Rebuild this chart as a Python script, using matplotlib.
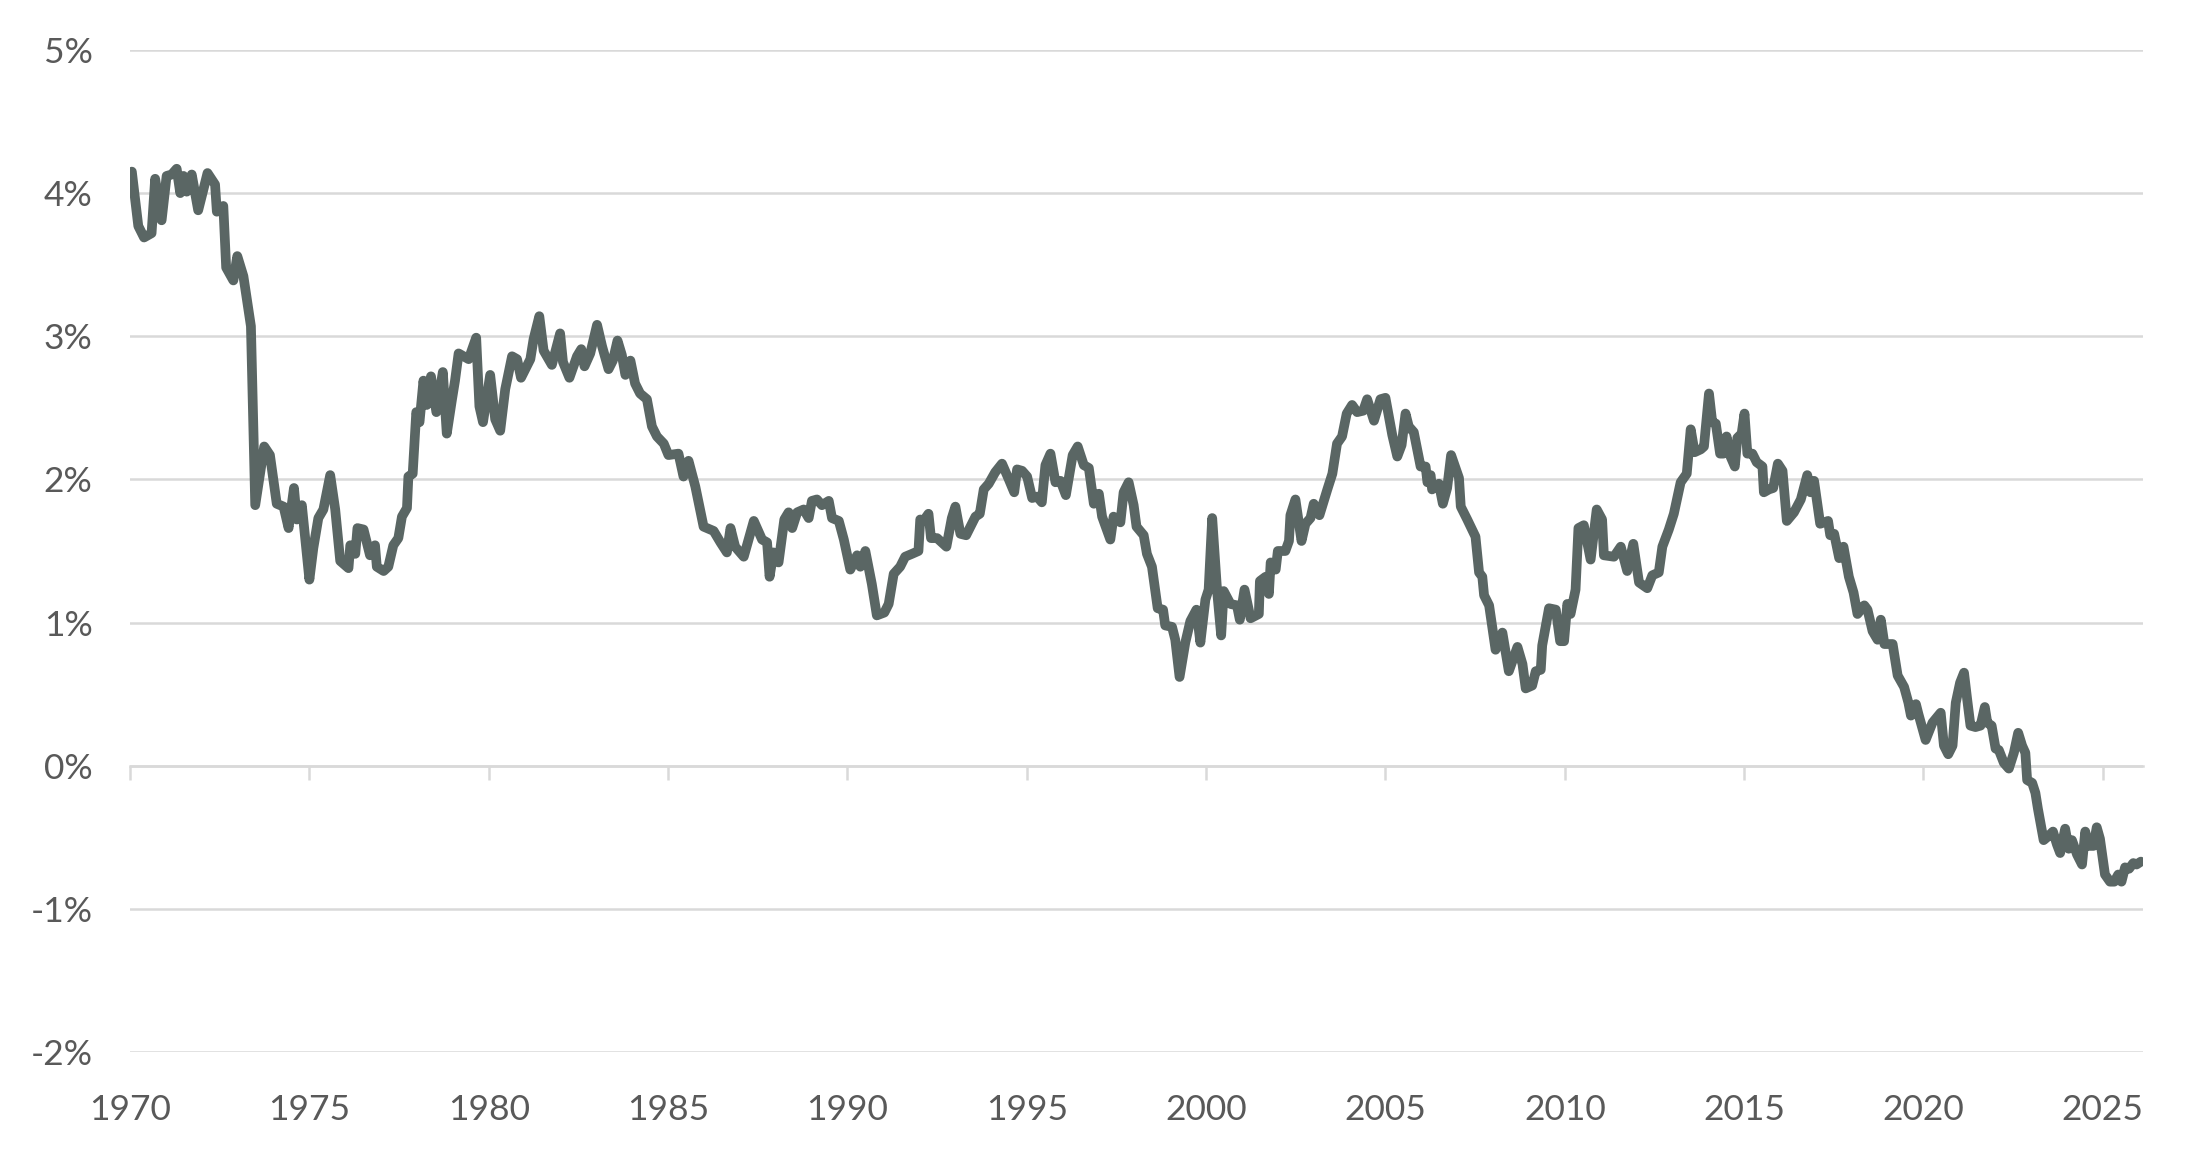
import matplotlib
matplotlib.use("Agg")
import matplotlib.pyplot as plt
from matplotlib.ticker import FuncFormatter

# series (decimal year, percent)
years = [
    1970.05, 1970.23, 1970.39, 1970.60, 1970.70, 1970.88, 1971.02, 1971.16, 1971.30, 1971.40,
    1971.49, 1971.58, 1971.72, 1971.90, 1972.16, 1972.37, 1972.42, 1972.60, 1972.68, 1972.88,
    1972.99, 1973.16, 1973.37, 1973.49, 1973.74, 1973.90, 1974.09, 1974.28, 1974.42, 1974.57,
    1974.65, 1974.79, 1975.00, 1975.11, 1975.25, 1975.39, 1975.58, 1975.72, 1975.86, 1976.09,
    1976.14, 1976.28, 1976.34, 1976.51, 1976.69, 1976.83, 1976.88, 1977.07, 1977.20, 1977.34,
    1977.48, 1977.58, 1977.72, 1977.76, 1977.88, 1977.98, 1978.07, 1978.18, 1978.27, 1978.39,
    1978.54, 1978.72, 1978.83, 1978.97, 1979.06, 1979.16, 1979.44, 1979.65, 1979.74, 1979.84,
    1980.04, 1980.18, 1980.32, 1980.46, 1980.65, 1980.79, 1980.90, 1981.16, 1981.25, 1981.41,
    1981.53, 1981.76, 1981.99, 1982.07, 1982.25, 1982.46, 1982.58, 1982.67, 1982.83, 1983.02,
    1983.16, 1983.34, 1983.46, 1983.59, 1983.71, 1983.81, 1983.95, 1984.08, 1984.22, 1984.41,
    1984.55, 1984.69, 1984.88, 1985.01, 1985.29, 1985.43, 1985.57, 1985.76, 1985.99, 1986.27,
    1986.46, 1986.64, 1986.74, 1986.87, 1987.11, 1987.39, 1987.62, 1987.76, 1987.83, 1987.94,
    1988.08, 1988.24, 1988.36, 1988.46, 1988.60, 1988.78, 1988.92, 1989.01, 1989.15, 1989.29,
    1989.48, 1989.57, 1989.76, 1989.90, 1990.08, 1990.27, 1990.36, 1990.50, 1990.68, 1990.82,
    1991.03, 1991.15, 1991.29, 1991.47, 1991.61, 1991.80, 1991.98, 1992.03, 1992.12, 1992.26,
    1992.33, 1992.50, 1992.76, 1992.91, 1993.01, 1993.15, 1993.31, 1993.57, 1993.69, 1993.80,
    1993.94, 1994.12, 1994.31, 1994.50, 1994.65, 1994.73, 1994.87, 1995.01, 1995.15, 1995.29,
    1995.42, 1995.52, 1995.66, 1995.80, 1995.94, 1996.09, 1996.28, 1996.42, 1996.59, 1996.73,
    1996.87, 1997.01, 1997.10, 1997.33, 1997.42, 1997.61, 1997.70, 1997.84, 1997.98, 1998.06,
    1998.26, 1998.35, 1998.49, 1998.65, 1998.80, 1998.86, 1999.05, 1999.14, 1999.26, 1999.42,
    1999.56, 1999.73, 1999.84, 1999.98, 2000.07, 2000.17, 2000.31, 2000.42, 2000.49, 2000.68,
    2000.86, 2000.94, 2001.07, 2001.24, 2001.47, 2001.50, 2001.66, 2001.75, 2001.80, 2001.94,
    2002.00, 2002.21, 2002.31, 2002.35, 2002.49, 2002.66, 2002.77, 2002.91, 2003.00, 2003.16,
    2003.38, 2003.52, 2003.65, 2003.79, 2003.92, 2004.07, 2004.21, 2004.38, 2004.49, 2004.68,
    2004.86, 2005.00, 2005.19, 2005.33, 2005.45, 2005.56, 2005.65, 2005.79, 2005.98, 2006.12,
    2006.17, 2006.26, 2006.30, 2006.49, 2006.60, 2006.72, 2006.83, 2007.05, 2007.10, 2007.28,
    2007.51, 2007.61, 2007.70, 2007.75, 2007.89, 2008.07, 2008.26, 2008.44, 2008.68, 2008.82,
    2008.91, 2009.09, 2009.19, 2009.33, 2009.37, 2009.56, 2009.75, 2009.87, 2009.98, 2010.07,
    2010.16, 2010.30, 2010.38, 2010.53, 2010.72, 2010.89, 2011.04, 2011.09, 2011.37, 2011.56,
    2011.74, 2011.91, 2012.07, 2012.30, 2012.44, 2012.62, 2012.72, 2012.90, 2013.04, 2013.23,
    2013.40, 2013.51, 2013.62, 2013.79, 2013.88, 2014.02, 2014.11, 2014.21, 2014.33, 2014.42,
    2014.51, 2014.62, 2014.74, 2014.81, 2014.93, 2015.01, 2015.09, 2015.23, 2015.35, 2015.51,
    2015.55, 2015.69, 2015.81, 2015.94, 2016.07, 2016.19, 2016.39, 2016.58, 2016.76, 2016.85,
    2016.95, 2017.12, 2017.34, 2017.40, 2017.51, 2017.65, 2017.77, 2017.92, 2018.05, 2018.16,
    2018.35, 2018.44, 2018.58, 2018.72, 2018.81, 2018.91, 2019.14, 2019.28, 2019.46, 2019.58,
    2019.65, 2019.79, 2019.86, 2020.06, 2020.25, 2020.48, 2020.57, 2020.69, 2020.81, 2020.90,
    2021.02, 2021.13, 2021.22, 2021.31, 2021.45, 2021.59, 2021.71, 2021.78, 2021.90, 2022.01,
    2022.10, 2022.24, 2022.38, 2022.52, 2022.64, 2022.75, 2022.84, 2022.89, 2023.03, 2023.12,
    2023.19, 2023.35, 2023.49, 2023.61, 2023.72, 2023.81, 2023.95, 2024.05, 2024.14, 2024.28,
    2024.42, 2024.51, 2024.60, 2024.74, 2024.83, 2024.92, 2025.06, 2025.20, 2025.32, 2025.43,
    2025.52, 2025.62, 2025.73, 2025.85, 2025.94, 2026.06,
]
values = [
    4.15, 3.77, 3.69, 3.72, 4.10, 3.81, 4.12, 4.13, 4.17, 4.00,
    4.12, 4.01, 4.13, 3.88, 4.14, 4.06, 3.87, 3.91, 3.48, 3.39,
    3.56, 3.42, 3.07, 1.82, 2.23, 2.17, 1.83, 1.81, 1.66, 1.94,
    1.72, 1.82, 1.30, 1.52, 1.73, 1.79, 2.03, 1.79, 1.43, 1.38,
    1.54, 1.48, 1.66, 1.65, 1.47, 1.54, 1.39, 1.36, 1.39, 1.54,
    1.59, 1.74, 1.80, 2.02, 2.04, 2.47, 2.40, 2.69, 2.52, 2.72,
    2.47, 2.75, 2.32, 2.55, 2.69, 2.88, 2.84, 2.99, 2.51, 2.40,
    2.73, 2.42, 2.34, 2.63, 2.86, 2.84, 2.71, 2.84, 2.98, 3.14,
    2.90, 2.80, 3.02, 2.82, 2.71, 2.86, 2.91, 2.79, 2.88, 3.08,
    2.93, 2.77, 2.83, 2.97, 2.87, 2.73, 2.83, 2.67, 2.60, 2.56,
    2.37, 2.30, 2.25, 2.17, 2.18, 2.02, 2.13, 1.95, 1.67, 1.64,
    1.56, 1.49, 1.66, 1.53, 1.46, 1.71, 1.58, 1.56, 1.32, 1.49,
    1.42, 1.72, 1.77, 1.66, 1.77, 1.79, 1.73, 1.85, 1.86, 1.82,
    1.85, 1.73, 1.71, 1.58, 1.37, 1.47, 1.39, 1.50, 1.27, 1.05,
    1.07, 1.13, 1.34, 1.39, 1.46, 1.48, 1.50, 1.72, 1.71, 1.76,
    1.59, 1.59, 1.53, 1.73, 1.81, 1.62, 1.61, 1.74, 1.76, 1.93,
    1.97, 2.05, 2.11, 2.00, 1.91, 2.07, 2.06, 2.02, 1.87, 1.88,
    1.84, 2.10, 2.18, 1.98, 1.99, 1.89, 2.17, 2.23, 2.10, 2.08,
    1.83, 1.90, 1.74, 1.58, 1.74, 1.70, 1.91, 1.98, 1.82, 1.67,
    1.61, 1.48, 1.39, 1.10, 1.09, 0.98, 0.97, 0.88, 0.62, 0.86,
    1.01, 1.09, 0.86, 1.16, 1.23, 1.73, 1.21, 0.91, 1.22, 1.13,
    1.12, 1.02, 1.23, 1.03, 1.06, 1.29, 1.32, 1.20, 1.42, 1.37,
    1.50, 1.50, 1.57, 1.75, 1.86, 1.57, 1.69, 1.73, 1.83, 1.75,
    1.93, 2.04, 2.25, 2.30, 2.46, 2.52, 2.47, 2.48, 2.56, 2.41,
    2.56, 2.57, 2.31, 2.16, 2.24, 2.46, 2.37, 2.33, 2.09, 2.09,
    1.98, 2.03, 1.93, 1.97, 1.83, 1.94, 2.17, 2.01, 1.81, 1.72,
    1.60, 1.35, 1.32, 1.19, 1.12, 0.81, 0.93, 0.66, 0.83, 0.71,
    0.54, 0.56, 0.66, 0.67, 0.84, 1.10, 1.09, 0.87, 0.87, 1.13,
    1.06, 1.23, 1.66, 1.68, 1.44, 1.79, 1.72, 1.47, 1.46, 1.53,
    1.36, 1.55, 1.28, 1.24, 1.33, 1.35, 1.53, 1.65, 1.76, 1.98,
    2.04, 2.35, 2.19, 2.21, 2.23, 2.60, 2.40, 2.39, 2.18, 2.18,
    2.30, 2.16, 2.09, 2.29, 2.32, 2.46, 2.18, 2.18, 2.12, 2.09,
    1.91, 1.93, 1.94, 2.11, 2.06, 1.71, 1.77, 1.86, 2.03, 1.91,
    1.99, 1.69, 1.71, 1.61, 1.62, 1.45, 1.53, 1.32, 1.21, 1.06,
    1.12, 1.09, 0.94, 0.88, 1.02, 0.85, 0.85, 0.63, 0.55, 0.44,
    0.35, 0.43, 0.36, 0.18, 0.30, 0.37, 0.14, 0.08, 0.14, 0.44,
    0.58, 0.65, 0.46, 0.28, 0.27, 0.28, 0.41, 0.30, 0.28, 0.12,
    0.11, 0.02, -0.02, 0.09, 0.23, 0.14, 0.09, -0.10, -0.12, -0.19,
    -0.30, -0.52, -0.49, -0.46, -0.55, -0.61, -0.44, -0.58, -0.52, -0.62,
    -0.69, -0.46, -0.56, -0.56, -0.43, -0.51, -0.76, -0.81, -0.81, -0.76,
    -0.81, -0.71, -0.72, -0.68, -0.69, -0.67,
]

year_ticks = [1970, 1975, 1980, 1985, 1990, 1995, 2000, 2005, 2010, 2015, 2020, 2025]
pct_ticks = [-2, -1, 0, 1, 2, 3, 4, 5]

line_color = "#5a6664"
grid_color = "#d9d9d9"
text_color = "#595959"

plt.rcParams["font.family"] = ["Lato", "DejaVu Sans"]

fig = plt.figure(figsize=(21.93, 11.59), dpi=100)
ax = fig.add_axes([0.0593, 0.0923, 0.9179, 0.8646])

ax.set_xlim(1970, 2026.12)
ax.set_ylim(-2, 5)
ax.set_yticks(pct_ticks)
ax.yaxis.set_major_formatter(FuncFormatter(lambda v, _: f"{v:.0f}%"))
ax.set_xticks(year_ticks)
ax.set_xticklabels([str(y) for y in year_ticks])

ax.grid(axis="y", color=grid_color, linewidth=1.8)
ax.set_axisbelow(True)
for side in ["top", "right", "left", "bottom"]:
    ax.spines[side].set_visible(False)

ax.tick_params(axis="both", length=0, labelsize=25.5, colors=text_color)
ax.tick_params(axis="y", pad=27)
ax.tick_params(axis="x", pad=30)

# zero line carries the year ticks
zero_axis = ax.secondary_xaxis(2 / 7)
zero_axis.set_xticks(year_ticks)
zero_axis.set_xticklabels([])
zero_axis.spines["bottom"].set_color(grid_color)
zero_axis.spines["bottom"].set_linewidth(1.8)
zero_axis.tick_params(axis="x", length=10, width=1.8, color=grid_color)

ax.plot(years, values, color=line_color, linewidth=7,
        solid_joinstyle="round", solid_capstyle="round", zorder=3)

fig.savefig("out.png", dpi=100, facecolor="white")
